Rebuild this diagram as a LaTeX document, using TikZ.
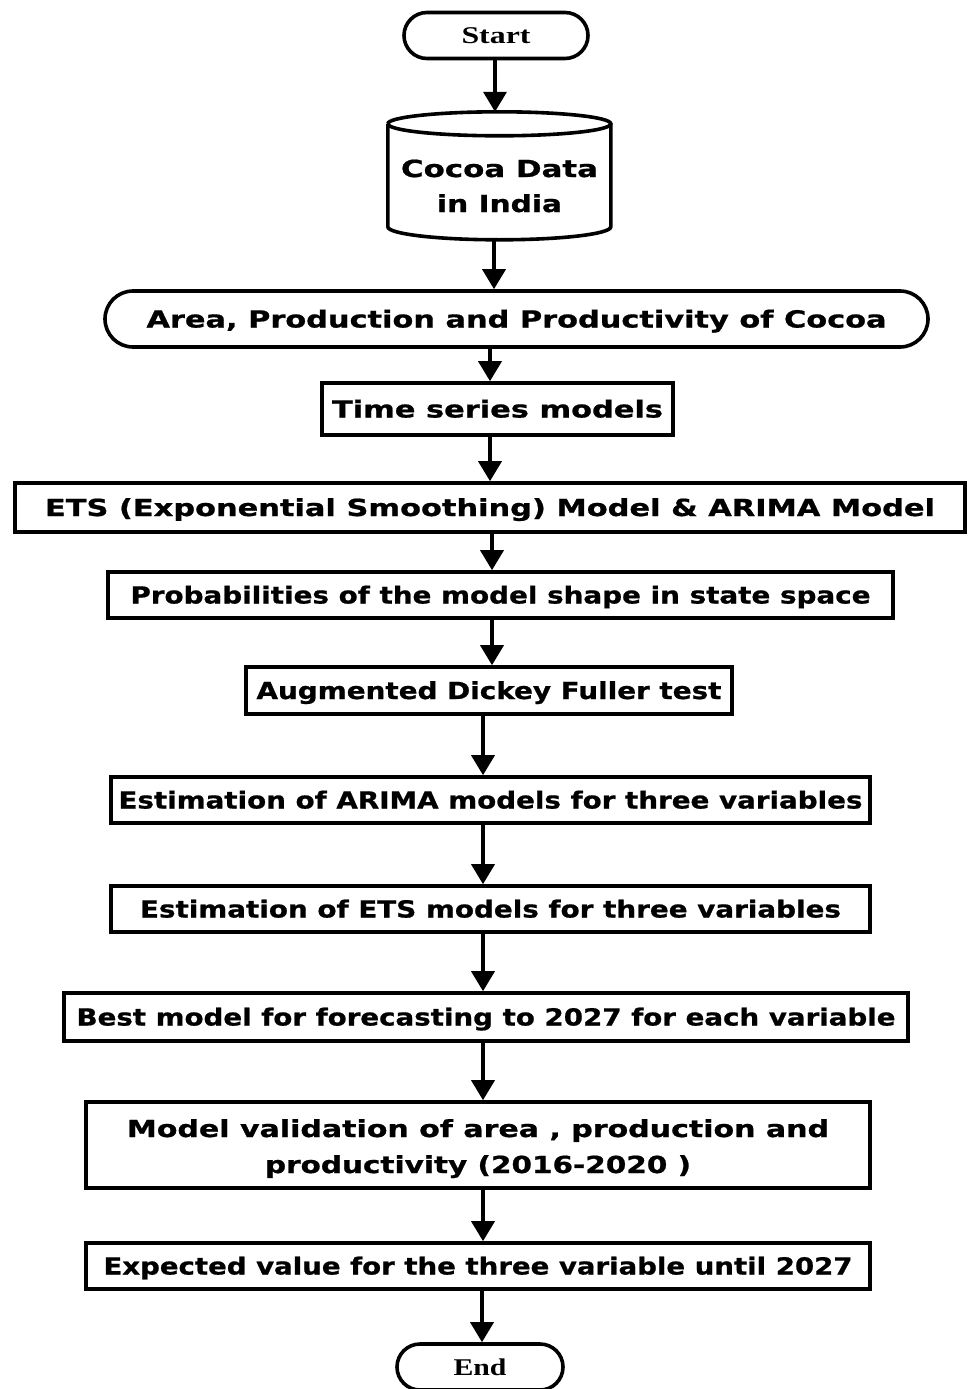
\documentclass[tikz,border=0pt]{standalone}
\usepackage{fontspec}
\usepackage{graphicx}
\setmainfont{DejaVu Sans}
\newfontfamily\boxfont{DejaVu Sans}[BoldFont={DejaVu Sans Bold}, BoldFeatures={FakeBold=0.8}]
\newfontfamily\termfont{Liberation Serif}
\usetikzlibrary{arrows.meta,shapes.misc}
\newcommand\fw[2]{\resizebox{#1pt}{\height}{#2}}
\tikzset{
  txt/.style={font=\boxfont\bfseries\fontsize{23.5}{36}\selectfont, align=center,
    text height=17pt, text depth=0pt},
  box/.style={txt, draw, line width=3.6pt, rectangle, inner sep=0pt},
  term/.style={draw, line width=3.6pt, rounded rectangle, inner sep=0pt,
    text height=16pt, text depth=0pt,
    font=\termfont\bfseries\fontsize{24}{28}\selectfont},
  stad/.style={txt, draw, line width=3.6pt, rounded rectangle, inner sep=0pt},
  arr/.style={line width=3.6pt, -{Triangle[width=23pt,length=20pt]}},
}
\begin{document}
\begin{tikzpicture}[x=1pt,y=-1pt]
\useasboundingbox[fill=white] (0,0) rectangle (969,1389);
% nodes
\node[term, minimum width=184pt, minimum height=46pt] (start) at (496,35.5) {\fw{69}{Start}};
\node[txt, inner sep=0pt, minimum width=223pt, minimum height=128pt,
      text height=72pt, font=\boxfont\bfseries\fontsize{23.5}{35}\selectfont] (data) at (499.5,176) {\fw{197}{Cocoa Data}\\\fw{125}{in India}};
\draw[line width=3.6pt] (data.north west) ++(0,12) coordinate (dtl)
  (dtl) arc[start angle=180, end angle=-180, x radius=111.5pt, y radius=12pt];
\draw[line width=3.6pt] (dtl) -- ++(0,103) arc[start angle=180, end angle=360, x radius=111.5pt, y radius=13pt] -- ++(0,-103);
\node[stad, minimum width=823pt, minimum height=56pt] (area) at (516.5,319) {\fw{740}{Area, Production and Productivity of Cocoa}};
\node[box, minimum width=351pt, minimum height=52pt] (tsm) at (497.5,409) {\fw{331}{Time series models}};
\node[box, minimum width=950pt, minimum height=49pt] (ets) at (490,507.5) {\fw{890}{ETS (Exponential Smoothing) Model \& ARIMA Model}};
\node[box, minimum width=785pt, minimum height=46pt] (prob) at (500.5,595) {\fw{740}{Probabilities of the model shape in state space}};
\node[box, minimum width=486pt, minimum height=47pt] (adf) at (489,690.5) {\fw{465}{Augmented Dickey Fuller test}};
\node[box, minimum width=759pt, minimum height=46pt] (arima) at (490.5,800) {\fw{744}{Estimation of ARIMA models for three variables}};
\node[box, minimum width=759pt, minimum height=46pt] (etsest) at (490.5,909) {\fw{701}{Estimation of ETS models for three variables}};
\node[box, minimum width=844pt, minimum height=48pt] (best) at (486,1017) {\fw{819}{Best model for forecasting to 2027 for each variable}};
\node[box, minimum width=784pt, minimum height=86pt, text height=56pt] (valid) at (478,1145) {\fw{702}{Model validation of area , production and}\\\fw{426}{productivity (2016-2020 )}};
\node[box, minimum width=784pt, minimum height=46pt] (exp) at (478,1266) {\fw{749}{Expected value for the three variable until 2027}};
\node[term, minimum width=166pt, minimum height=46pt] (end) at (480,1367) {\fw{53}{End}};
% arrow columns
\coordinate (x1) at (495,0);
\coordinate (x2) at (494,0);
\coordinate (x3) at (490,0);
\coordinate (x4) at (492,0);
\coordinate (x5) at (483,0);
\coordinate (x6) at (482,0);
% connectors
\draw[arr] (start.south -| x1) -- (data.north -| x1);
\draw[arr] (data.south -| x2) ++(0,1) -- (area.north -| x2);
\draw[arr] (area.south -| x3) -- (tsm.north -| x3);
\draw[arr] (tsm.south -| x3) -- (ets.north -| x3);
\draw[arr] (ets.south -| x4) -- (prob.north -| x4);
\draw[arr] (prob.south -| x4) -- (adf.north -| x4);
\draw[arr] (adf.south -| x5) -- (arima.north -| x5);
\draw[arr] (arima.south -| x5) -- (etsest.north -| x5);
\draw[arr] (etsest.south -| x5) -- (best.north -| x5);
\draw[arr] (best.south -| x5) -- (valid.north -| x5);
\draw[arr] (valid.south -| x5) -- (exp.north -| x5);
\draw[arr] (exp.south -| x6) -- (end.north -| x6);
\end{tikzpicture}
\end{document}
